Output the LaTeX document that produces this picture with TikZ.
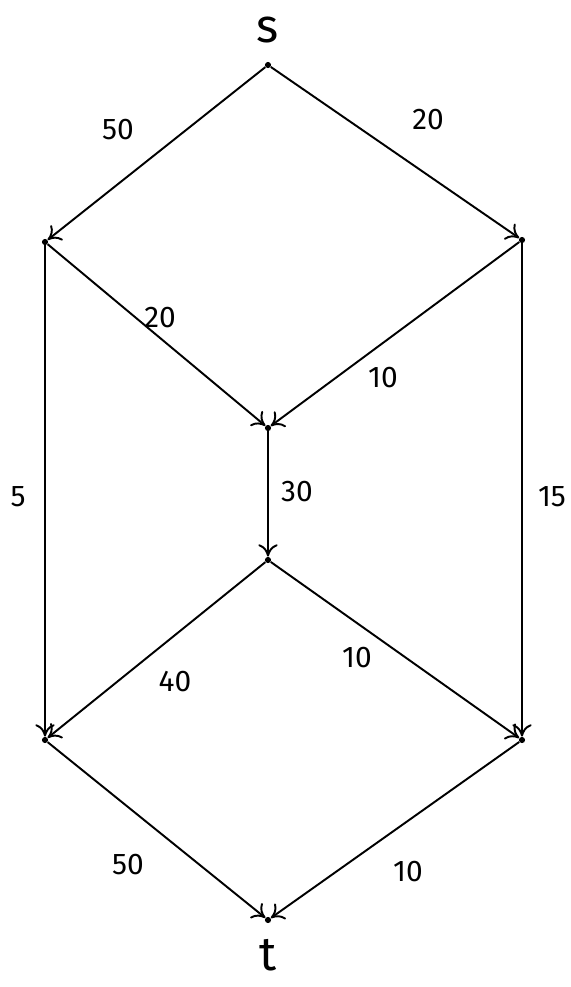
\documentclass[tikz,border=0pt]{standalone}
\usepackage{fontspec}
\setmainfont{Fira Sans}
\usetikzlibrary{arrows.meta}

\begin{document}
\begin{tikzpicture}[x=0.02cm,y=-0.02cm,
 vtx/.style={circle,fill=black,inner sep=0pt,minimum size=3.5pt},
 flow/.style={draw,line width=1.1pt,-{To[length=7pt,width=11pt]}},
 capval/.style={font=\fontsize{17}{19}\selectfont},
 term/.style={font=\fontsize{27}{29}\selectfont}]
\useasboundingbox (0,0) rectangle (571,987);
% vertices
\node[vtx] (s) at (268,65) {};
\node[vtx] (lu) at (45,242) {};
\node[vtx] (ru) at (522,240) {};
\node[vtx] (mu) at (268,428) {};
\node[vtx] (ml) at (268,560) {};
\node[vtx] (ll) at (45,740) {};
\node[vtx] (rl) at (522,740) {};
\node[vtx] (t) at (268,920) {};
\node[term] (slab) at (268,30) {s};
\node[term] (tlab) at (268,955) {t};
% edges
\draw[flow] (s) -- (lu);
\draw[flow] (s) -- (ru);
\draw[flow] (lu) -- (mu);
\draw[flow] (ru) -- (mu);
\draw[flow] (mu) -- (ml);
\draw[flow] (lu) -- (ll);
\draw[flow] (ru) -- (rl);
\draw[flow] (ml) -- (ll);
\draw[flow] (ml) -- (rl);
\draw[flow] (ll) -- (t);
\draw[flow] (rl) -- (t);
% capacities
\node[capval] (c1) at (118,130) {50};
\node[capval] (c2) at (428,120) {20};
\node[capval] (c3) at (160,318) {20};
\node[capval] (c4) at (383,378) {10};
\node[capval] (c5) at (297,492) {30};
\node[capval] (c6) at (18,497) {5};
\node[capval] (c7) at (552,497) {15};
\node[capval] (c8) at (175,682) {40};
\node[capval] (c9) at (357,658) {10};
\node[capval] (c10) at (128,865) {50};
\node[capval] (c11) at (408,872) {10};
\end{tikzpicture}
\end{document}
